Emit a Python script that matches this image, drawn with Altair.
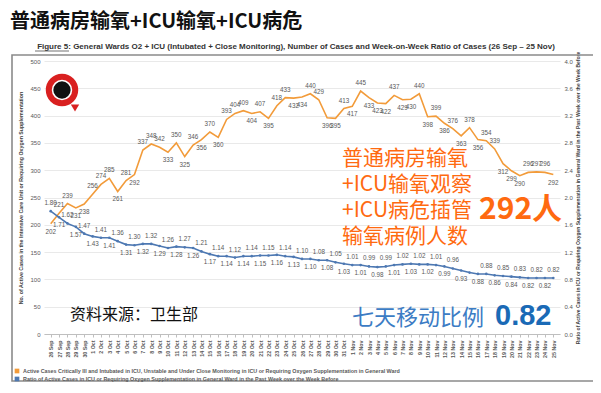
import altair as alt
import pandas as pd

# ---------------- data ----------------
dates = [f"{d.day} {d.strftime('%b')}" for d in pd.date_range("2021-09-26", "2021-11-25")]
cases = [202, 221, 239, 231, 238, 256, 274, 285, 261, 281,
         292, 337, 348, 342, 333, 350, 325, 346, 356, 370,
         360, 393, 404, 409, 404, 407, 395, 418, 433, 432,
         434, 440, 429, 396, 395, 413, 417, 445, 433, 423,
         422, 437, 429, 430, 440, 398, 399, 386, 376, 363,
         378, 356, 354, 339, 312, 299, 290, 296, 297, 296,
         292]
ratio = [1.80, 1.71, 1.62, 1.57, 1.47, 1.43, 1.41, 1.41, 1.36, 1.31,
         1.30, 1.32, 1.32, 1.29, 1.26, 1.28, 1.27, 1.26, 1.21, 1.17,
         1.14, 1.14, 1.12, 1.14, 1.14, 1.15, 1.15, 1.16, 1.14, 1.13,
         1.10, 1.10, 1.08, 1.08, 1.05, 1.03, 1.01, 1.01, 0.99, 0.98,
         0.99, 1.01, 1.02, 1.03, 1.02, 1.02, 1.01, 0.99, 0.96, 0.93,
         0.90, 0.88, 0.88, 0.86, 0.85, 0.84, 0.83, 0.82, 0.82, 0.82,
         0.82]
unlabeled_days = ["15 Nov"]
series_names = [
    "Active Cases Critically Ill and Intubated in ICU, Unstable and Under Close Monitoring in ICU or Requiring Oxygen Supplementation in General Ward",
    "Ratio of Active Cases in ICU or Requiring Oxygen Supplementation in General Ward in the Past Week over the Week Before",
]
left_title = "No. of Active Cases in the Intensive Care Unit or Requiring Oxygen Supplementation"
left_ticks = [0, 50, 100, 150, 200, 250, 300, 350, 400, 450, 500]
right_ticks = [0.0, 0.4, 0.8, 1.2, 1.6, 2.0, 2.4, 2.8, 3.2, 3.6, 4.0]

title_txt = "普通病房输氧+ICU输氧+ICU病危"
subtitle_txt = "Figure 5: General Wards O2 + ICU (Intubated + Close Monitoring), Number of Cases and Week-on-Week Ratio of Cases (26 Sep – 25 Nov)"
note_lines = ["普通病房输氧", "+ICU输氧观察", "+ICU病危插管", "输氧病例人数"]
note_big = "292人"
source_txt = "资料来源：卫生部"
ratio_txt = "七天移动比例"
ratio_big = "0.82"

ORANGE = "#F29B3A"
BLUE = "#4D78B2"
ANN_ORANGE = "#FF6A10"
ANN_BLUE = "#3C7CC4"
ANN_BLUE2 = "#1A6AB6"
LBL = "#595959"
CJK = "Noto Sans CJK SC"
LAT = "Liberation Sans"

# ---------------- table ----------------
df = pd.DataFrame({"date": dates, "cases": cases, "ratio": ratio})
n = len(df)
pos_c = []
for i in range(n):
    if i == 0 or i == n - 1:
        pos_c.append("b")
    else:
        pos_c.append("a" if cases[i] >= (cases[i - 1] + cases[i + 1]) / 2 else "b")
df["pc"] = pos_c
df["pr"] = ["a" if i % 2 == 0 else "b" for i in range(n)]
df["show"] = [d not in unlabeled_days for d in dates]

W, H = 516, 273

x_axis = alt.Axis(title=None, labelAngle=270, labelFontSize=5.3, labelColor=LBL,
                  labelFont=LAT, labelFontWeight="bold", labelPadding=3, tickSize=3,
                  tickColor="#bfbfbf", domainColor="#bfbfbf", labelOverlap=False)
x_scale = alt.Scale(type="point", padding=0.8)


def X():
    return alt.X("date:N", sort=dates, scale=x_scale, axis=x_axis)


yl = alt.Scale(domain=[0, 500], nice=False, zero=True)
yr = alt.Scale(domain=[0, 4], nice=False, zero=True)

axis_l = alt.Axis(orient="left", values=left_ticks, title=left_title,
                  titleFontSize=5.3, titleFont=LAT, titleColor="#404040", titleFontWeight="bold",
                  titlePadding=6, labelFontSize=6, labelColor=LBL, labelFont=LAT,
                  labelPadding=4, ticks=False, domain=False, grid=True,
                  gridColor="#e3e3e3", gridWidth=0.8)
axis_r = alt.Axis(orient="right", values=right_ticks, format=".1f",
                  title=series_names[1], titleAngle=270,
                  titleFontSize=5, titleFont=LAT, titleColor="#404040", titleFontWeight="bold",
                  titlePadding=8, labelFontSize=6, labelColor=LBL, labelFont=LAT,
                  labelPadding=4, ticks=False, domain=False, grid=False)


def YL():
    return alt.Y("cases:Q", scale=yl, axis=axis_l)


def YR():
    return alt.Y("ratio:Q", scale=yr, axis=axis_r)


base = alt.Chart(df)

orange_line = base.mark_line(color=ORANGE, strokeWidth=1.6).encode(x=X(), y=YL())
o_above = base.transform_filter("datum.pc == 'a'").mark_text(
    fontSize=6.3, font=LAT, color=LBL, dy=-5, baseline="bottom").encode(
    x=X(), y=YL(), text="cases:Q")
o_below = base.transform_filter("datum.pc == 'b'").mark_text(
    fontSize=6.3, font=LAT, color=LBL, dy=5, baseline="top").encode(
    x=X(), y=YL(), text="cases:Q")
orange = alt.layer(orange_line, o_above, o_below)

blue_line = base.mark_line(color=BLUE, strokeWidth=1.6).encode(x=X(), y=YR())
blue_pts = base.mark_point(filled=True, size=7, color=BLUE, opacity=1).encode(x=X(), y=YR())
b_above = base.transform_filter("datum.pr == 'a' && datum.show").mark_text(
    fontSize=6.3, font=LAT, color=LBL, dy=-5, baseline="bottom").encode(
    x=X(), y=YR(), text=alt.Text("ratio:Q", format=".2f"))
b_below = base.transform_filter("datum.pr == 'b' && datum.show").mark_text(
    fontSize=6.3, font=LAT, color=LBL, dy=5, baseline="top").encode(
    x=X(), y=YR(), text=alt.Text("ratio:Q", format=".2f"))
blue = alt.layer(blue_line, blue_pts, b_above, b_below)

one = alt.Chart(pd.DataFrame({"k": [0]}))

frame = one.mark_rect(fill=None, stroke="#8a8a8a", strokeWidth=1.6).encode(
    x=alt.value(-32), x2=alt.value(551), y=alt.value(-6), y2=alt.value(320))

title = one.mark_text(text=title_txt, font=CJK, fontSize=20, fontWeight="bold",
                      color="#111111", align="left", baseline="middle").encode(
    x=alt.value(-34), y=alt.value(-39))
subtitle = one.mark_text(text=subtitle_txt, font=LAT, fontSize=8, fontWeight="bold",
                         color="#333333", align="center", baseline="middle").encode(
    x=alt.value(252), y=alt.value(-14))
underline = one.mark_rule(color="#333333", strokeWidth=0.7).encode(
    x=alt.value(-9), x2=alt.value(25), y=alt.value(-10))

notes = one.mark_text(text=note_lines, font=CJK, fontSize=21, lineHeight=26,
                      color=ANN_ORANGE, align="left", baseline="middle").encode(
    x=alt.value(298), y=alt.value(98))
note2 = one.mark_text(text=note_big, font=CJK, fontSize=30, fontWeight="bold",
                      color=ANN_ORANGE, align="left", baseline="middle").encode(
    x=alt.value(435), y=alt.value(149))
src = one.mark_text(text=source_txt, font=CJK, fontSize=16,
                    color="#111111", align="left", baseline="middle").encode(
    x=alt.value(26), y=alt.value(254))
rt = one.mark_text(text=ratio_txt, font=CJK, fontSize=22,
                   color=ANN_BLUE, align="left", baseline="middle").encode(
    x=alt.value(308), y=alt.value(257))
rb = one.mark_text(text=ratio_big, font=LAT, fontSize=29, fontWeight="bold",
                   color=ANN_BLUE2, align="left", baseline="middle").encode(
    x=alt.value(451), y=alt.value(255))

# logo
ring = one.mark_point(shape="circle", size=700, filled=False, stroke="#D92020",
                      strokeWidth=6, fill="white", fillOpacity=1).encode(
    x=alt.value(18), y=alt.value(29))
dot = one.mark_point(shape="circle", size=300, filled=True, color="#111111", opacity=1).encode(
    x=alt.value(18), y=alt.value(29))
tail = one.mark_point(shape="triangle-down", size=70, filled=True, color="#D92020", opacity=1).encode(
    x=alt.value(31), y=alt.value(47))

# legend
leg_sq0 = one.mark_square(size=22, color=ORANGE, opacity=1).encode(x=alt.value(-27), y=alt.value(310))
leg_sq1 = one.mark_square(size=22, color=BLUE, opacity=1).encode(x=alt.value(-27), y=alt.value(318))
leg_t0 = one.mark_text(text=series_names[0], font=LAT, fontSize=5.4, fontWeight="bold", color=LBL,
                       align="left", baseline="middle").encode(x=alt.value(-21), y=alt.value(310))
leg_t1 = one.mark_text(text=series_names[1], font=LAT, fontSize=5.4, fontWeight="bold", color=LBL,
                       align="left", baseline="middle").encode(x=alt.value(-21), y=alt.value(318))

chart = alt.layer(
    frame, orange, blue,
    title, subtitle, underline, notes, note2, src, rt, rb,
    ring, dot, tail, leg_sq0, leg_sq1, leg_t0, leg_t1,
).resolve_scale(y="independent").properties(
    width=W, height=H,
    autosize=alt.AutoSizeParams(type="none"),
    padding={"left": 36, "top": 53, "right": 33, "bottom": 51},
    background="white",
).configure_view(stroke=None)

chart.save("out.html", embed_options={"renderer": "svg", "actions": False})
